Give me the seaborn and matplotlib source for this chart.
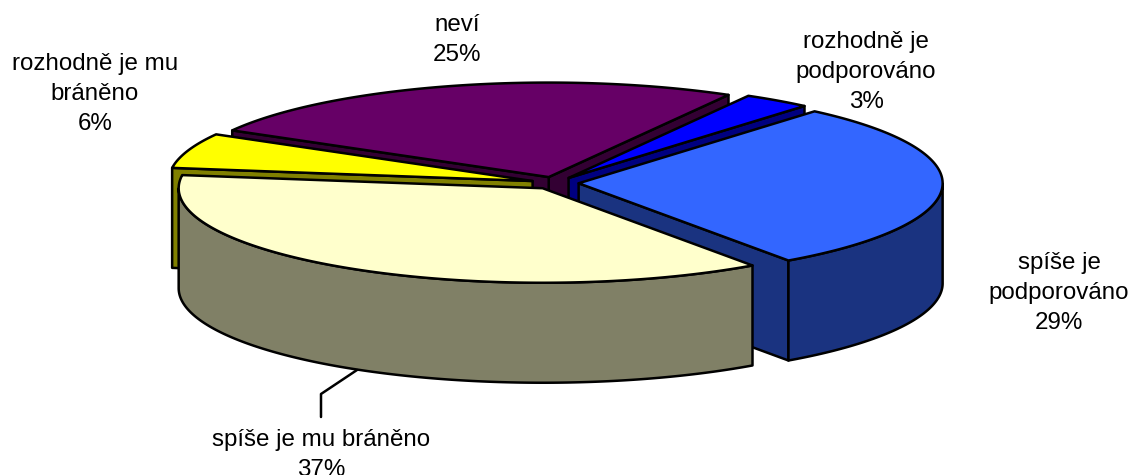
import numpy as np
import seaborn as sns
import matplotlib.pyplot as plt
from matplotlib.colors import to_rgb

# data
categories = ["rozhodně je\npodporováno", "neví", "rozhodně je mu\nbráněno",
              "spíše je mu bráněno", "spíše je\npodporováno"]
values = [3, 25, 6, 37, 29]
top_colors = ["#0000FF", "#660066", "#FFFF00", "#FFFFCC", "#3366FF"]
label_pos = [(866, 72), (457, 40), (95, 94), (321, 455), (1059, 293)]

# 3d pie look
start_angle = 49.6
cx, cy = 555, 183
rx, ry = 364, 94.5
depth = 100
explode = 0.065

sns.set_theme(style="white")
plt.rcParams['font.family'] = ['Liberation Sans', 'DejaVu Sans']

fig, ax = plt.subplots(figsize=(11.33, 4.75), dpi=100)
ax.set_position([0, 0, 1, 1])
ax.set_xlim(0, 1133)
ax.set_ylim(475, 0)
ax.axis("off")

edges = start_angle + np.cumsum([0] + values) * 3.6
slices = []
for i in range(len(values)):
    a0, a1 = edges[i], edges[i + 1]
    mid = np.radians((a0 + a1) / 2)
    x0 = cx + explode * rx * np.cos(mid)
    y0 = cy - explode * ry * np.sin(mid)
    slices.append((np.sin(mid), a0, a1, x0, y0, top_colors[i]))

style = dict(edgecolor="black", linewidth=1.8, joinstyle="round")
zo = 1
# back slices first
for s, a0, a1, x0, y0, col in sorted(slices, key=lambda t: -t[0]):
    th = np.radians(np.linspace(a0, a1, 200))
    xs = x0 + rx * np.cos(th)
    ys = y0 - ry * np.sin(th)
    wall = tuple(c * 0.5 for c in to_rgb(col))

    # cut faces, only those turned to the viewer
    for a, sign in ((a0, -1), (a1, 1)):
        if -sign * np.cos(np.radians(a)) < 0:
            continue
        r = np.radians(a)
        tx, ty = x0 + rx * np.cos(r), y0 - ry * np.sin(r)
        ax.fill([x0, tx, tx, x0], [y0, ty, ty + depth, y0 + depth],
                facecolor=wall, zorder=zo, **style)
        zo += 1

    # rim
    front = np.sin(th) <= 0
    if front.any():
        fx, fy = xs[front], ys[front]
        ax.fill(np.r_[fx, fx[::-1]], np.r_[fy, fy[::-1] + depth],
                facecolor=wall, zorder=zo, **style)
        zo += 1

    # top
    ax.fill(np.r_[x0, xs], np.r_[y0, ys], facecolor=col, zorder=zo, **style)
    zo += 1

# leader line for the big slice
ax.plot([357, 321, 321], [370, 394, 417], color="black", lw=1.8, zorder=zo)

for name, v, (lx, ly) in zip(categories, values, label_pos):
    ax.text(lx, ly, f"{name}\n{v}%", ha="center", va="center", fontsize=17.4,
            linespacing=1.47, color="black", zorder=zo + 1)

fig.savefig("out.png", dpi=100)
